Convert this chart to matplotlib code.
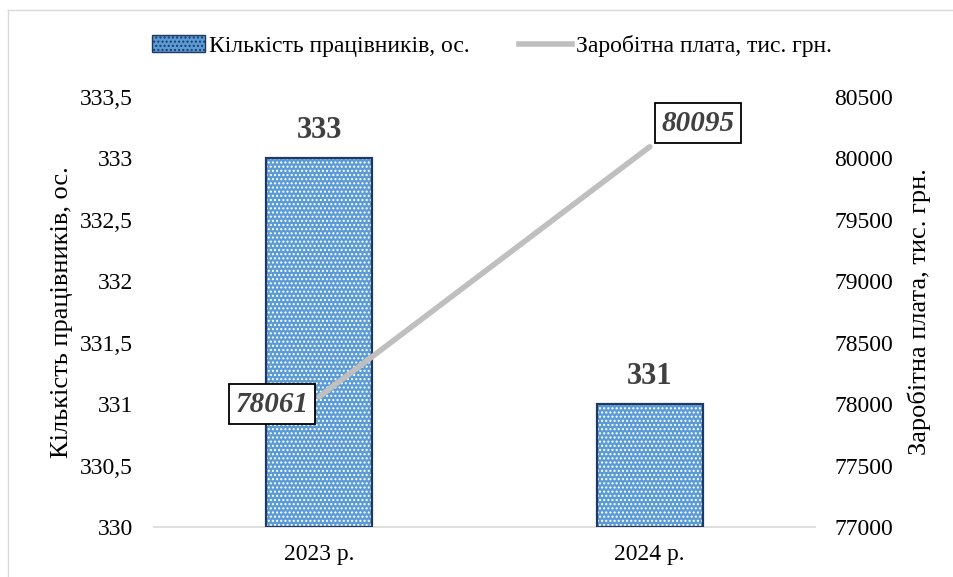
import matplotlib.pyplot as plt
from matplotlib.patches import Patch
from matplotlib.lines import Line2D

plt.rcParams['font.family'] = ['Liberation Serif', 'DejaVu Serif']

years = ['2023 р.', '2024 р.']
workers = [333, 331]
salary = [78061, 80095]
left_ticks = [330, 330.5, 331, 331.5, 332, 332.5, 333, 333.5]
right_ticks = [77000, 77500, 78000, 78500, 79000, 79500, 80000, 80500]

bar_blue = '#5B9BD5'
bar_edge = '#1F3864'
line_grey = '#BFBFBF'
label_grey = '#404040'

fig = plt.figure(figsize=(9.54, 5.77), dpi=100)
ax = fig.add_axes([154/954, 1 - 527/577, (815-154)/954, (527-97)/577])
ax2 = ax.twinx()

x = list(range(len(years)))
w = 0.32
# основа, точки і рамка окремо
ax.bar(x, [v - 330 for v in workers], w, bottom=330, color=bar_blue, linewidth=0, zorder=2)
ax.bar(x, [v - 330 for v in workers], w, bottom=330, facecolor='none', edgecolor='white',
       hatch='....', linewidth=0, zorder=3)
ax.bar(x, [v - 330 for v in workers], w, bottom=330, facecolor='none', edgecolor=bar_edge,
       linewidth=1.6, zorder=4)
for xi, v in zip(x, workers):
    ax.text(xi, v + 0.11, str(v), ha='center', va='bottom', fontsize=22,
            fontweight='bold', color=label_grey)

ax.set_xlim(-0.5, 1.5)
ax.set_ylim(330, 333.5)
ax.set_yticks(left_ticks)
ax.set_yticklabels([f'{t:g}'.replace('.', ',') for t in left_ticks])
ax.set_xticks(x)
ax.set_xticklabels(years)
ax.set_ylabel('Кількість працівників, ос.', fontsize=19, labelpad=5)

ax2.plot(x, salary, color=line_grey, lw=4, solid_capstyle='round', zorder=5)
ax2.set_ylim(77000, 80500)
ax2.set_yticks(right_ticks)
ax2.set_ylabel('Заробітна плата, тис. грн.', fontsize=19, labelpad=10)

box = dict(boxstyle='square,pad=0.22', facecolor='white', edgecolor='black', lw=1.3)
ax2.annotate(str(salary[0]), (x[0], salary[0]), xytext=(-34, -5.5), textcoords='offset points',
             ha='center', va='center', fontsize=21, fontstyle='italic', fontweight='bold',
             color=label_grey, bbox=box, zorder=6)
ax2.annotate(str(salary[1]), (x[1], salary[1]), xytext=(35, 17), textcoords='offset points',
             ha='center', va='center', fontsize=21, fontstyle='italic', fontweight='bold',
             color=label_grey, bbox=box, zorder=6)

for a in (ax, ax2):
    for s in a.spines.values():
        s.set_visible(False)
    a.tick_params(length=0, labelsize=17)
ax.spines['bottom'].set_visible(True)
ax.spines['bottom'].set_color('#D9D9D9')
ax.spines['bottom'].set_linewidth(1.2)
ax.tick_params(axis='x', pad=12)
ax.tick_params(axis='y', pad=15)
ax2.tick_params(axis='y', pad=14)

handles = [Patch(facecolor=bar_blue, edgecolor=bar_edge, hatch='....'),
           Line2D([0], [0], color=line_grey, lw=4)]
leg = fig.legend(handles, ['Кількість працівників, ос.', 'Заробітна плата, тис. грн.'],
                 loc='center', bbox_to_anchor=(492/954, 1 - 46/577), ncol=2, frameon=False,
                 fontsize=17, handlelength=2.25, handletextpad=0.17, columnspacing=2.1)

# рамка діаграми
fig.add_artist(Line2D([8/954, 8/954], [0, 1 - 10/577], color='#D9D9D9', lw=1))
fig.add_artist(Line2D([8/954, 1], [1 - 10/577, 1 - 10/577], color='#D9D9D9', lw=1))

fig.savefig('out.png', dpi=100)
